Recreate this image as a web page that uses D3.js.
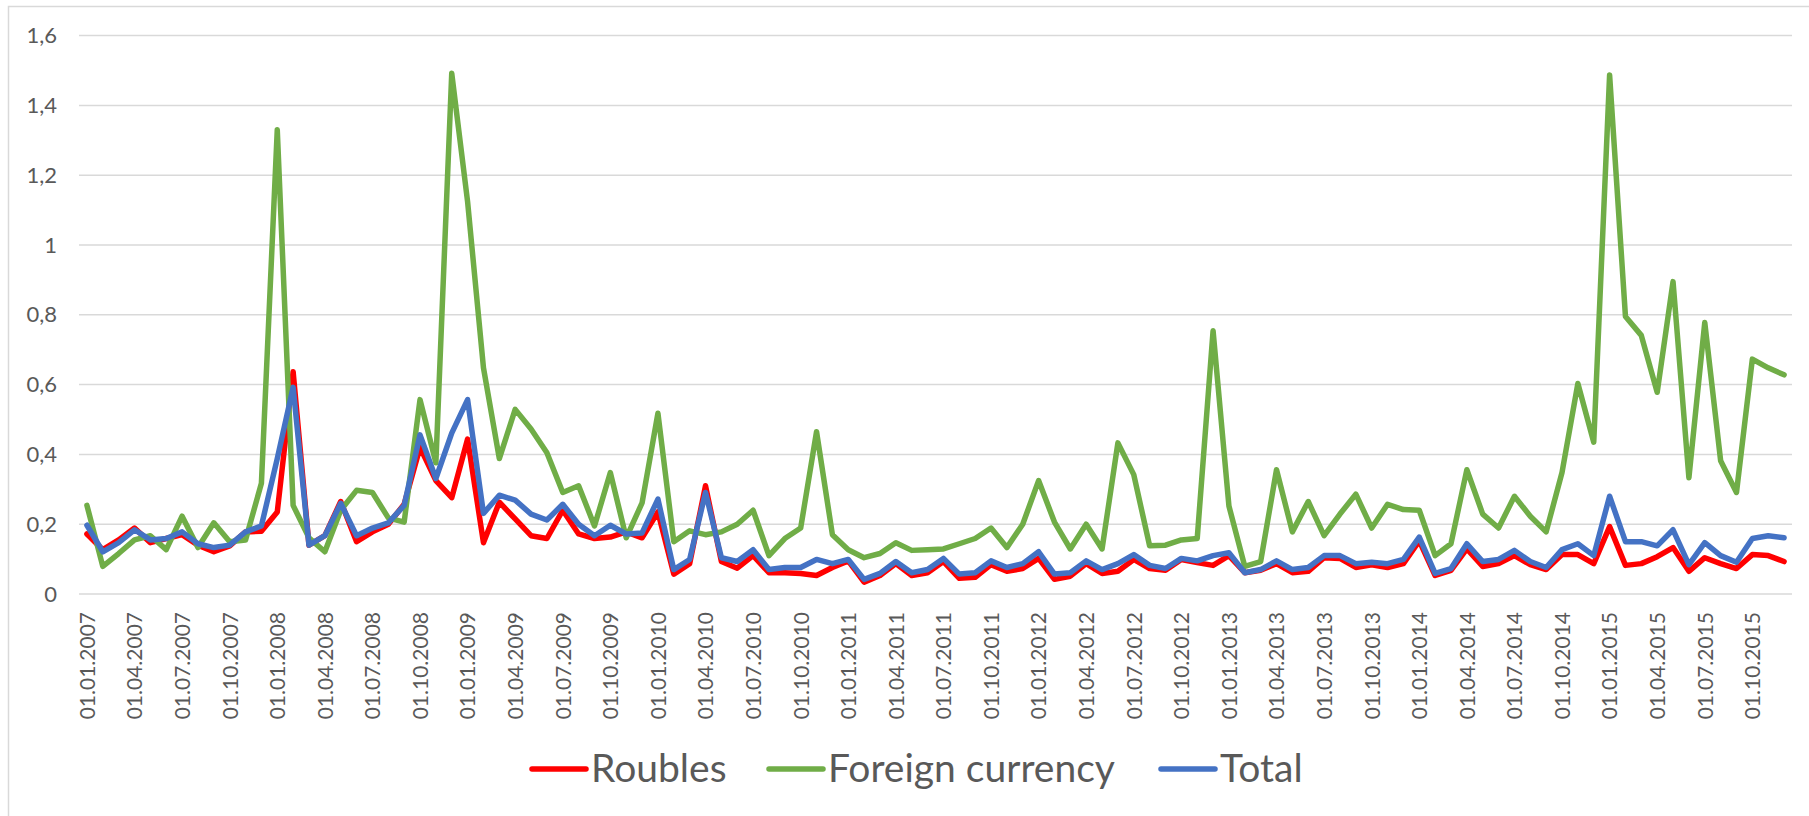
<!DOCTYPE html>
<html>
<head>
<meta charset="utf-8">
<script src="https://cdn.jsdelivr.net/npm/d3@7"></script>
<style>
  html, body { margin: 0; padding: 0; background: #fff; }
  svg { display: block; }
</style>
</head>
<body>
<svg id="chart" width="1809" height="816"></svg>
<script>
// monthly observations, Jan 2007 .. Dec 2015
const months = d3.timeMonths(new Date(2007, 0, 1), new Date(2016, 0, 1))

const roubles = [
  0.172, 0.127, 0.155, 0.189, 0.147, 0.159, 0.170, 0.140, 0.121, 0.138, 0.178, 0.180,
  0.235, 0.637, 0.140, 0.167, 0.265, 0.150, 0.178, 0.200, 0.257, 0.420, 0.325, 0.276,
  0.444, 0.147, 0.263, 0.215, 0.167, 0.159, 0.240, 0.172, 0.159, 0.163, 0.178, 0.161,
  0.235, 0.057, 0.087, 0.310, 0.093, 0.074, 0.110, 0.061, 0.061, 0.059, 0.053, 0.076,
  0.095, 0.034, 0.053, 0.087, 0.053, 0.061, 0.093, 0.045, 0.048, 0.084, 0.065, 0.073,
  0.102, 0.042, 0.051, 0.087, 0.059, 0.065, 0.099, 0.073, 0.068, 0.099, 0.090, 0.082,
  0.110, 0.061, 0.068, 0.087, 0.061, 0.065, 0.104, 0.102, 0.076, 0.084, 0.076, 0.087,
  0.152, 0.053, 0.068, 0.129, 0.079, 0.087, 0.110, 0.084, 0.070, 0.113, 0.113, 0.087,
  0.193, 0.082, 0.087, 0.107, 0.133, 0.065, 0.104, 0.087, 0.073, 0.113, 0.110, 0.093
]

const foreign = [
  0.254, 0.079, 0.116, 0.155, 0.167, 0.127, 0.223, 0.133, 0.204, 0.150, 0.155, 0.317,
  1.330, 0.254, 0.161, 0.121, 0.240, 0.297, 0.291, 0.218, 0.206, 0.557, 0.376, 1.492,
  1.124, 0.648, 0.388, 0.529, 0.473, 0.405, 0.291, 0.310, 0.195, 0.348, 0.161, 0.261,
  0.518, 0.150, 0.181, 0.170, 0.178, 0.200, 0.240, 0.110, 0.159, 0.189, 0.465, 0.170,
  0.127, 0.104, 0.116, 0.147, 0.125, 0.127, 0.129, 0.144, 0.159, 0.189, 0.133, 0.200,
  0.325, 0.206, 0.129, 0.200, 0.129, 0.433, 0.342, 0.138, 0.140, 0.155, 0.159, 0.754,
  0.252, 0.079, 0.093, 0.356, 0.178, 0.265, 0.167, 0.229, 0.286, 0.189, 0.257, 0.242,
  0.240, 0.110, 0.144, 0.356, 0.229, 0.189, 0.280, 0.223, 0.178, 0.348, 0.603, 0.435,
  1.487, 0.795, 0.741, 0.578, 0.895, 0.333, 0.778, 0.382, 0.291, 0.673, 0.648, 0.628
]

const total = [
  0.197, 0.121, 0.147, 0.184, 0.155, 0.159, 0.178, 0.144, 0.133, 0.140, 0.178, 0.195,
  0.388, 0.592, 0.140, 0.167, 0.260, 0.167, 0.189, 0.204, 0.254, 0.456, 0.331, 0.461,
  0.557, 0.231, 0.283, 0.269, 0.229, 0.212, 0.257, 0.200, 0.167, 0.197, 0.172, 0.175,
  0.272, 0.070, 0.099, 0.291, 0.104, 0.093, 0.127, 0.070, 0.076, 0.076, 0.099, 0.087,
  0.099, 0.042, 0.059, 0.093, 0.061, 0.070, 0.102, 0.057, 0.061, 0.095, 0.076, 0.087,
  0.121, 0.057, 0.061, 0.095, 0.070, 0.087, 0.113, 0.082, 0.073, 0.102, 0.095, 0.110,
  0.118, 0.061, 0.070, 0.095, 0.070, 0.076, 0.110, 0.110, 0.087, 0.091, 0.087, 0.099,
  0.163, 0.059, 0.073, 0.144, 0.093, 0.099, 0.125, 0.093, 0.076, 0.127, 0.144, 0.110,
  0.280, 0.150, 0.150, 0.138, 0.184, 0.084, 0.147, 0.110, 0.091, 0.159, 0.167, 0.161
]

const yTicks = [0, 0.2, 0.4, 0.6, 0.8, 1, 1.2, 1.4, 1.6]

const series = [
  { name: 'Roubles', values: roubles, color: '#ff0000' },
  { name: 'Foreign currency', values: foreign, color: '#70ad47' },
  { name: 'Total', values: total, color: '#4472c4' }
]

const FONT = 'Lato, "Open Sans", sans-serif'
const TEXT = '#595959'

const svg = d3.select('#chart')

// outer chart frame (right and bottom edges fall outside the picture)
svg.append('rect')
  .attr('x', 8.5).attr('y', 6.5)
  .attr('width', 1820).attr('height', 830)
  .attr('fill', '#fff')
  .attr('stroke', '#d9d9d9')
  .attr('stroke-width', 1.5)

const plot = { left: 79, right: 1792, top: 35.6, bottom: 594 }

const x = d3.scalePoint()
  .domain(d3.range(months.length))
  .range([plot.left, plot.right])
  .padding(0.5)

const y = d3.scaleLinear()
  .domain([0, 1.6])
  .range([plot.bottom, plot.top])

const fmtY = d => d3.format('~g')(d).replace('.', ',')
const fmtDate = d3.timeFormat('%d.%m.%Y')

// gridlines
svg.append('g')
  .selectAll('line')
  .data(yTicks)
  .join('line')
  .attr('x1', plot.left).attr('x2', plot.right)
  .attr('y1', d => y(d)).attr('y2', d => y(d))
  .attr('stroke', '#d9d9d9')
  .attr('stroke-width', 1.5)

// y axis labels
const yAxis = svg.append('g')
  .attr('transform', `translate(${plot.left - 22},0)`)
  .call(d3.axisLeft(y).tickValues(yTicks).tickFormat(fmtY).tickSize(0).tickPadding(0))
yAxis.select('.domain').remove()
yAxis.selectAll('text')
  .attr('font-family', FONT)
  .attr('font-size', 22)
  .attr('fill', TEXT)

// x axis labels, one every quarter
const xAxis = svg.append('g')
  .attr('transform', `translate(0,${plot.bottom})`)
  .call(d3.axisBottom(x)
    .tickValues(d3.range(0, months.length, 3))
    .tickFormat(i => fmtDate(months[i]))
    .tickSize(0))
xAxis.select('.domain').remove()
xAxis.selectAll('text')
  .attr('font-family', FONT)
  .attr('font-size', 21)
  .attr('fill', TEXT)
  .attr('text-anchor', 'end')
  .attr('transform', 'rotate(-90)')
  .attr('x', -18)
  .attr('y', 0)
  .attr('dy', '0.35em')

// series lines
const line = d3.line()
  .x((d, i) => x(i))
  .y(d => y(d))

svg.append('g')
  .selectAll('path')
  .data(series)
  .join('path')
  .attr('d', d => line(d.values))
  .attr('fill', 'none')
  .attr('stroke', d => d.color)
  .attr('stroke-width', 5.5)
  .attr('stroke-linejoin', 'round')
  .attr('stroke-linecap', 'round')

// legend
const legendX = [532, 769, 1161]
const legend = svg.append('g')
  .selectAll('g')
  .data(series)
  .join('g')
  .attr('transform', (d, i) => `translate(${legendX[i]},769)`)

legend.append('line')
  .attr('x1', 0).attr('x2', 54)
  .attr('stroke', d => d.color)
  .attr('stroke-width', 5.5)
  .attr('stroke-linecap', 'round')

legend.append('text')
  .attr('x', 59)
  .attr('dy', '0.33em')
  .attr('font-family', FONT)
  .attr('font-size', 39)
  .attr('fill', TEXT)
  .text(d => d.name)
</script>
</body>
</html>
